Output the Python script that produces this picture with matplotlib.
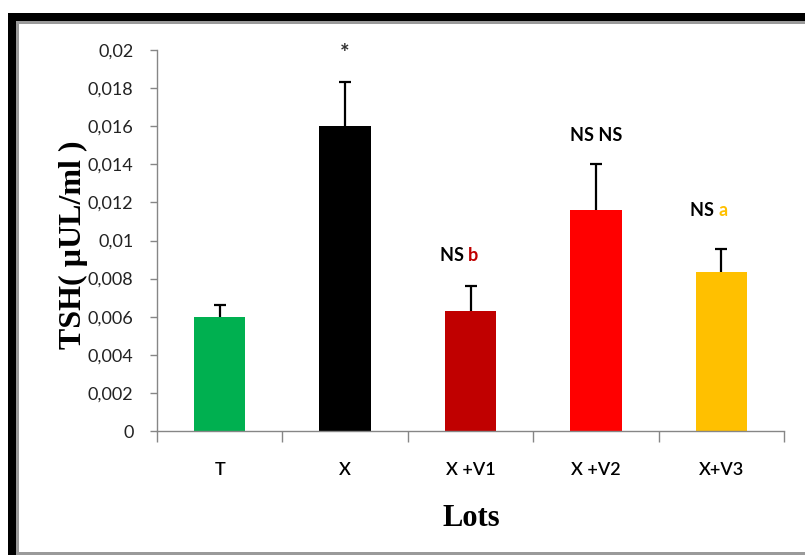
import matplotlib
matplotlib.use("Agg")
import matplotlib.pyplot as plt
from matplotlib.patches import Rectangle
from matplotlib.ticker import FuncFormatter, FixedLocator

# Data
lots = ["T", "X", "X +V1", "X +V2", "X+V3"]
tsh_mean = [0.0060, 0.0160, 0.0063, 0.0116, 0.00835]
tsh_err = [0.0006, 0.0023, 0.0013, 0.0024, 0.0012]
bar_colors = ["#00B050", "#000000", "#C00000", "#FF0000", "#FFC000"]
signif_main = ["", "*", "NS", "NS NS", "NS"]
signif_extra = ["", "", "b", "", "a"]
extra_colors = ["black", "black", "#C00000", "black", "#FFC000"]
label_heights = [None, 0.0200, 0.0092, 0.0155, 0.0116]

W, H = 805, 555
fig = plt.figure(figsize=(W / 100, H / 100), dpi=100)

def fx(px):
    return px / W

def fy(py):
    return 1 - py / H

# Outer frame
frame = [
    (8, 13, W - 8, 8, "black"),
    (8, 13, 8, H - 13, "black"),
    (16, 21, W - 16, 3, "#9a9a9a"),
    (16, 21, 2.5, H - 21, "#9a9a9a"),
    (16, 552, W - 16, 3, "#9a9a9a"),
]
for x0, y0, w, h, c in frame:
    fig.patches.append(Rectangle((fx(x0), fy(y0 + h)), w / W, h / H,
                                 transform=fig.transFigure, color=c, lw=0, zorder=5))

ax = fig.add_axes([fx(157), fy(431), fx(784) - fx(157), fy(50) - fy(431)])
x = list(range(len(lots)))
ax.bar(x, tsh_mean, width=0.41, color=bar_colors, zorder=3)
# upper whiskers only
eb = ax.errorbar(x, tsh_mean, yerr=[[0] * len(tsh_err), tsh_err], fmt="none",
                 ecolor="black", elinewidth=1.6, capsize=4, capthick=1.6, zorder=2)
caplines = eb[1]
if len(caplines) == 2:
    caplines[0].set_visible(False)

ax.set_xlim(-0.5, len(lots) - 0.5)
ax.set_ylim(0, 0.02)

for s in ["top", "right"]:
    ax.spines[s].set_visible(False)
for s in ["left", "bottom"]:
    ax.spines[s].set_color("#868686")
    ax.spines[s].set_linewidth(1.0)
    ax.spines[s].set_zorder(4)

tick_font = "Lato"
ax.yaxis.set_major_locator(FixedLocator([i * 0.002 for i in range(11)]))
ax.yaxis.set_major_formatter(FuncFormatter(lambda v, p: ("%g" % round(v, 4)).replace(".", ",")))
ax.tick_params(axis="y", direction="out", length=5, width=1, color="#868686",
               pad=12, labelsize=13)
for t in ax.get_yticklabels():
    t.set_fontfamily(tick_font)
    t.set_color("#222222")

ax.set_xticks(x)
ax.set_xticklabels(lots, fontfamily=tick_font, fontsize=13, fontweight="semibold")
ax.set_xticks([i - 0.5 for i in range(len(lots) + 1)], minor=True)
ax.tick_params(axis="x", which="major", length=0, pad=22)
ax.tick_params(axis="x", which="minor", direction="out", length=8, width=1, color="#868686")

# Significance labels
for i in range(len(lots)):
    if label_heights[i] is None:
        continue
    if signif_main[i] == "*":
        ax.text(i, label_heights[i] - 0.0002, "*", ha="center", va="center",
                fontsize=16, fontfamily=tick_font, fontweight="bold", color="#333333")
        continue
    if signif_extra[i]:
        ax.text(i - 0.02, label_heights[i], signif_main[i] + " ", ha="right", va="center",
                fontsize=13, fontfamily=tick_font, fontweight="bold")
        ax.text(i - 0.02, label_heights[i], signif_extra[i], ha="left", va="center",
                fontsize=13, fontfamily=tick_font, fontweight="bold", color=extra_colors[i])
    else:
        ax.text(i, label_heights[i], signif_main[i], ha="center", va="center",
                fontsize=13, fontfamily=tick_font, fontweight="bold")

fig.text(fx(73), fy(245), "TSH( µUL/ml )", rotation=90, ha="center", va="center",
         fontfamily="Liberation Serif", fontweight="bold", fontsize=23)
fig.text(fx(471), fy(518), "Lots", ha="center", va="center",
         fontfamily="Liberation Serif", fontweight="bold", fontsize=22)

fig.savefig("out.png", dpi=100)
